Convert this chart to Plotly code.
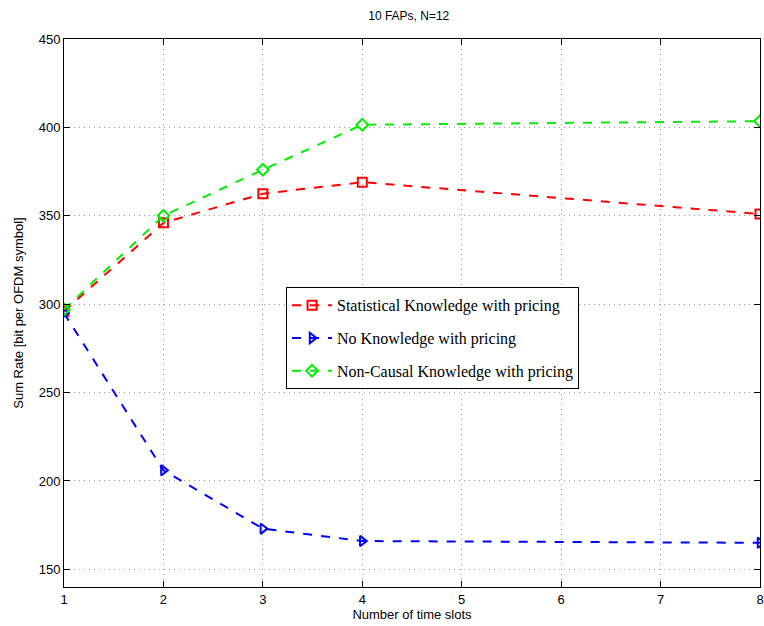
import plotly.graph_objects as go

x_slots = [1, 2, 3, 4, 8]
stat_vals = [296, 346, 362.5, 369, 351]
noknow_vals = [295, 206, 173, 166, 165]
noncausal_vals = [297, 350, 376, 401.5, 403.5]

names = ["Statistical Knowledge with pricing",
         "No Knowledge with pricing",
         "Non-Causal Knowledge with pricing"]
colors = ["#ff0000", "#0000ff", "#00ee00"]
symbols = ["square-open", "triangle-right-open", "diamond-open"]
series = [stat_vals, noknow_vals, noncausal_vals]

fig = go.Figure()
for i, (nm, c, s, ys) in enumerate(zip(names, colors, symbols, series)):
    fig.add_trace(go.Scatter(
        x=x_slots, y=ys, name=nm, mode="lines+markers", legendgroup=f"g{i}",
        line=dict(color=c, width=2, dash="dash"),
        marker=dict(symbol=s, size=9, color=c, line=dict(color=c, width=2)),
    ))

axis_common = dict(
    showline=True, linecolor="black", linewidth=1, mirror="ticks",
    ticks="inside", ticklen=6, tickcolor="black",
    showgrid=True, gridcolor="#999999", griddash="1px,4px", gridwidth=1,
    zeroline=False, automargin=False,
    tickfont=dict(family="Liberation Sans, Arial", size=13, color="black"),
)

fig.update_layout(
    width=764, height=626,
    margin=dict(l=64, r=4, t=39, b=39),
    paper_bgcolor="white", plot_bgcolor="white",
    title=dict(text="10 FAPs, N=12", x=0.535, xanchor="center", y=0.975, yanchor="middle",
               font=dict(family="Liberation Sans, Arial", size=12, color="black")),
    xaxis=dict(range=[1, 8], tickvals=[1, 2, 3, 4, 5, 6, 7, 8],
               title=dict(text="Number of time slots", standoff=4,
                          font=dict(family="Liberation Sans, Arial", size=13, color="black")),
               **axis_common),
    yaxis=dict(range=[140, 450], tickvals=[150, 200, 250, 300, 350, 400, 450],
               title=dict(text="Sum Rate [bit per OFDM symbol]", standoff=12,
                          font=dict(family="Liberation Sans, Arial", size=13, color="black")),
               **axis_common),
    legend=dict(x=0.319, y=0.547, xanchor="left", yanchor="top",
                bgcolor="white", bordercolor="black", borderwidth=1,
                font=dict(family="Liberation Serif, Times New Roman", size=16, color="black"),
                tracegroupgap=9, itemwidth=40),
    showlegend=True,
)

fig.write_html("out.html")
